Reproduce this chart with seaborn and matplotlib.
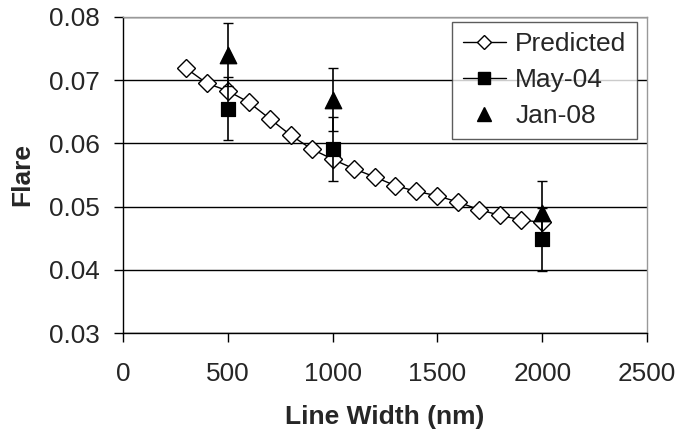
import numpy as np
import pandas as pd
import seaborn as sns
import matplotlib
matplotlib.use("Agg")
import matplotlib.pyplot as plt
from matplotlib.lines import Line2D

# predicted flare vs line width
pred_width = [300, 400, 500, 600, 700, 800, 900, 1000, 1100, 1200,
              1300, 1400, 1500, 1600, 1700, 1800, 1900, 2000]
pred_flare = [0.0719, 0.0695, 0.0683, 0.0665, 0.0639, 0.0613, 0.0591, 0.0575, 0.0560, 0.0547,
              0.0533, 0.0524, 0.0517, 0.0507, 0.0495, 0.0486, 0.0479, 0.0475]

# measurements
meas_width = [500, 1000, 2000]
may04_flare = [0.0655, 0.0591, 0.0448]
jan08_flare = [0.0740, 0.0669, 0.0490]
meas_err = [0.005, 0.005, 0.005]

sns.set_theme(style="white")
plt.rcParams['font.family'] = ['Liberation Sans', 'DejaVu Sans']

fig, ax = plt.subplots(figsize=(6.79, 4.32), dpi=100)
fig.subplots_adjust(left=0.181, right=0.953, bottom=0.229, top=0.961)

pred_df = pd.DataFrame({"width": pred_width, "flare": pred_flare})
sns.lineplot(data=pred_df, x="width", y="flare", ax=ax, color="black", lw=1,
             marker="D", markersize=9.5, markerfacecolor="white",
             markeredgecolor="black", markeredgewidth=1, zorder=3)

ax.errorbar(meas_width, may04_flare, yerr=meas_err, fmt="none", ecolor="black",
            elinewidth=1.2, capsize=3.6, capthick=1, zorder=4)
ax.errorbar(meas_width, jan08_flare, yerr=meas_err, fmt="none", ecolor="black",
            elinewidth=1.2, capsize=3.6, capthick=1, zorder=4)

sns.scatterplot(x=meas_width, y=may04_flare, ax=ax, marker="s", s=115,
                color="black", edgecolor="black", zorder=5)
sns.scatterplot(x=meas_width, y=jan08_flare, ax=ax, marker="^", s=140,
                color="black", edgecolor="black", zorder=5)

ax.set_xlim(0, 2500)
ax.set_ylim(0.03, 0.08)
ax.set_xticks(np.arange(0, 2501, 500))
ax.set_yticks(np.arange(0.03, 0.0801, 0.01))
ax.yaxis.set_major_formatter(matplotlib.ticker.FormatStrFormatter("%.2f"))
ax.grid(axis="y", color="black", lw=1)
ax.set_axisbelow(True)

for s in ["left", "bottom"]:
    ax.spines[s].set_color("black")
    ax.spines[s].set_linewidth(1)
for s in ["top", "right"]:
    ax.spines[s].set_color("#999999")
    ax.spines[s].set_linewidth(1)

ax.tick_params(axis="both", which="both", direction="out", length=6.5, width=1,
               color="black", labelsize=18.8, bottom=True, left=True)
ax.tick_params(axis="x", pad=14)
ax.tick_params(axis="y", pad=10)

ax.set_xlabel("Line Width (nm)", fontsize=19, fontweight="bold", labelpad=14)
ax.set_ylabel("Flare", fontsize=19, fontweight="bold", labelpad=11)

handles = [
    Line2D([], [], color="black", lw=1, marker="D", markersize=7,
           markerfacecolor="white", markeredgecolor="black"),
    Line2D([], [], color="black", lw=1, marker="s", markersize=9,
           markerfacecolor="black", markeredgecolor="black"),
    Line2D([], [], color="black", lw=0, marker="^", markersize=10,
           markerfacecolor="black", markeredgecolor="black"),
]
leg = ax.legend(handles, ["Predicted", "May-04", "Jan-08"], loc="upper right",
                bbox_to_anchor=(0.981, 0.984), borderaxespad=0, fontsize=19,
                frameon=True, fancybox=False, edgecolor="#333333",
                handlelength=1.65, handletextpad=0.35, borderpad=0.4,
                labelspacing=0.45)
leg.get_frame().set_linewidth(1)

fig.savefig("out.png", dpi=100, facecolor="white")
